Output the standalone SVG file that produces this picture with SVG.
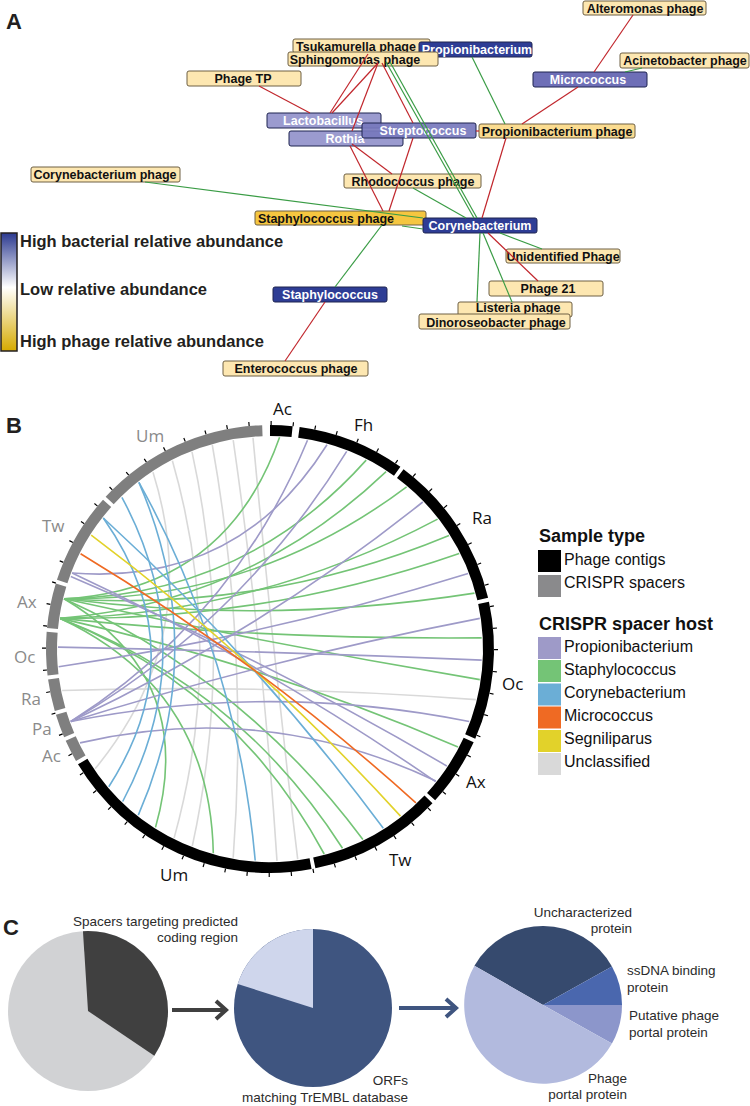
<svg xmlns="http://www.w3.org/2000/svg" width="750" height="1106" viewBox="0 0 750 1106">
<defs>
<linearGradient id="abund" x1="0" y1="0" x2="0" y2="1">
<stop offset="0" stop-color="#2b3990"/>
<stop offset="0.46" stop-color="#ffffff"/>
<stop offset="1" stop-color="#d6aa00"/>
</linearGradient>
<style>
.ph rect{fill:#fde7b1;stroke:#6e6044;stroke-width:1}
.ph text{fill:#111}
.bac rect{stroke:#1e2450;stroke-width:1}
.bac text{fill:#fff}
.nl{font-family:"Liberation Sans",Arial,sans-serif;font-weight:bold;font-size:12.5px;text-anchor:middle}
.er{stroke:#c1272d;stroke-width:1.2;fill:none}
.eg{stroke:#3a9c45;stroke-width:1.2;fill:none}
.big{font-family:"Liberation Sans",Arial,sans-serif;font-weight:bold;font-size:16.5px;fill:#231f20}
.pl{font-family:"Liberation Sans",Arial,sans-serif;font-weight:bold;font-size:22px;fill:#231f20}
.ch{fill:none;stroke-width:1.6}
.cu{stroke:#d9d9d9}.cg{stroke:#74c476}.cp{stroke:#9e9ac8}.cc{stroke:#6baed6}.co{stroke:#ef6a23}.cy{stroke:#e2d22a}
.segb{fill:none;stroke:#000;stroke-width:11}
.segg{fill:none;stroke:#7f7f7f;stroke-width:11}
.lb{font-family:"Open Sans","DejaVu Sans",sans-serif;font-size:17px;fill:#111}
.lg{font-family:"Open Sans","DejaVu Sans",sans-serif;font-size:17px;fill:#8a8a8a}
.lh{font-family:"Liberation Sans",Arial,sans-serif;font-weight:bold;font-size:18px;fill:#111}
.lt{font-family:"Liberation Sans",Arial,sans-serif;font-size:16px;fill:#111}
.ct{font-family:"Liberation Sans",Arial,sans-serif;font-size:13.5px;fill:#2b2b2b}
.r{text-anchor:end}
</style>
</defs>
<rect width="750" height="1106" fill="#fff"/>

<!-- Panel A -->
<text class="pl" x="6" y="29" font-size="21">A</text>
<g id="legendA">
<rect x="1" y="233" width="16" height="118" fill="url(#abund)" stroke="#231f20" stroke-width="1.5"/>
<text class="big" x="20" y="247">High bacterial relative abundance</text>
<text class="big" x="20" y="295">Low relative abundance</text>
<text class="big" x="20" y="347">High phage relative abundance</text>
</g>

<g id="n-alteromonas" class="ph"><rect x="583" y="1" width="123" height="14" rx="2"/><text class="nl" x="645" y="12.5">Alteromonas phage</text></g>
<g id="n-acinetobacter" class="ph"><rect x="620" y="53" width="129" height="15" rx="2"/><text class="nl" x="685" y="65">Acinetobacter phage</text></g>
<g id="n-micrococcus" class="bac"><rect x="533" y="72" width="114" height="15" rx="2" fill="#6e6fb7"/><text class="nl" x="588" y="84">Micrococcus</text></g>
<g id="n-tsukamurella" class="ph"><rect x="293" y="39" width="137" height="14" rx="2"/><text class="nl" x="356" y="50.5">Tsukamurella phage</text></g>
<g id="n-propionibacterium" class="bac"><rect x="419" y="42" width="113" height="15" rx="2" fill="#2e3d95"/><text class="nl" x="477" y="54">Propionibacterium</text></g>
<g id="n-sphingomonas" class="ph"><rect x="288" y="52" width="150" height="14" rx="2"/><text class="nl" x="355" y="63.5">Sphingomonas phage</text></g>
<g id="n-propphage" class="ph"><rect x="479" y="124" width="156" height="14" rx="2" style="fill:#fbdc90"/><text class="nl" x="557" y="135.5">Propionibacterium phage</text></g>
<g id="n-phagetp" class="ph"><rect x="187" y="71" width="114" height="15" rx="2"/><text class="nl" x="243" y="83">Phage TP</text></g>
<g id="n-lactobacillus" class="bac"><rect x="267" y="113" width="114" height="15" rx="2" fill="#9b9bcf"/><text class="nl" x="323" y="125">Lactobacillus</text></g>
<g id="n-rothia" class="bac"><rect x="289" y="131" width="114" height="15" rx="2" fill="#9b9bcf"/><text class="nl" x="345" y="143">Rothia</text></g>
<g id="n-streptococcus" class="bac"><rect x="362" y="123" width="114" height="15" rx="2" fill="#7778bd" fill-opacity="0.92"/><text class="nl" x="423" y="135">Streptococcus</text></g>
<g id="n-rhodococcus" class="ph"><rect x="344" y="174" width="137" height="14" rx="2"/><text class="nl" x="413" y="185.5">Rhodococcus phage</text></g>
<g id="n-corynephage" class="ph"><rect x="31" y="167" width="149" height="15" rx="2"/><text class="nl" x="105" y="179">Corynebacterium phage</text></g>
<g id="n-staphphage" class="ph"><rect x="255" y="211" width="171" height="14" rx="2" style="fill:#f5c640"/><text class="nl" x="326" y="222.5">Staphylococcus phage</text></g>
<g id="n-corynebacterium" class="bac"><rect x="423" y="218" width="114" height="15" rx="2" fill="#2e3d95"/><text class="nl" x="480" y="230">Corynebacterium</text></g>
<g id="n-unidentified" class="ph"><rect x="506" y="249" width="114" height="14" rx="2"/><text class="nl" x="563" y="260.5">Unidentified Phage</text></g>
<g id="n-phage21" class="ph"><rect x="489" y="281" width="114" height="15" rx="2"/><text class="nl" x="548" y="293">Phage 21</text></g>
<g id="n-listeria" class="ph"><rect x="458" y="302" width="114" height="15" rx="2"/><text class="nl" x="518" y="312">Listeria phage</text></g>
<g id="n-dinoroseobacter" class="ph"><rect x="419" y="314" width="151" height="15" rx="2"/><text class="nl" x="496" y="326.5">Dinoroseobacter phage</text></g>
<g id="n-staphylococcus" class="bac"><rect x="273" y="287" width="114" height="15" rx="2" fill="#2e3d95"/><text class="nl" x="330" y="299">Staphylococcus</text></g>
<g id="n-enterococcus" class="ph"><rect x="223" y="361" width="145" height="15" rx="2"/><text class="nl" x="296" y="373">Enterococcus phage</text></g>

<g id="edgesA">
<path class="er" d="M633,15 L594,72"/>
<path class="er" d="M578,87 L522,124"/>
<path class="er" d="M506,138 L482,218"/>
<path class="er" d="M476,131 L479,131"/>
<path class="er" d="M259,86 L310,113"/>
<path class="er" d="M368,54 L330,113"/>
<path class="er" d="M378,63 L332,113"/>
<path class="er" d="M378,63 L352,131"/>
<path class="er" d="M382,63 L413,123"/>
<path class="er" d="M350,146 L383,211"/>
<path class="er" d="M352,144 L392,174"/>
<path class="er" d="M413,138 L389,211"/>
<path class="er" d="M325,302 L285,361"/>
<path class="er" d="M488,233 L538,281"/>
<path class="eg" d="M472,57 L505,124"/>
<path class="eg" d="M625,72 L642,68"/>
<path class="eg" d="M386,62 L474,218"/>
<path class="eg" d="M390,62 L477,218"/>
<path class="eg" d="M145,182 L423,218"/>
<path class="eg" d="M413,188 L466,218"/>
<path class="eg" d="M402,226 L423,229"/>
<path class="eg" d="M382,225 L335,287"/>
<path class="eg" d="M500,233 L542,249"/>
<path class="eg" d="M483,233 L512,302"/>
<path class="eg" d="M480,233 L477,302"/>
</g>

<!-- Panel B -->
<text class="pl" x="6" y="433">B</text>
<g id="chords">
<path class="ch cu" d="M253.0,437.7 Q272.4,648.8 297.7,859.2"/>
<path class="ch cu" d="M233.2,440.2 Q263.3,649.7 277.0,860.9"/>
<path class="ch cu" d="M212.3,445.0 Q248.7,650.1 233.2,857.8"/>
<path class="ch cu" d="M192.0,451.9 Q235.0,649.0 192.3,846.2"/>
<path class="ch cu" d="M172.4,460.8 Q226.5,649.2 174.1,838.1"/>
<path class="ch cu" d="M153.0,472.2 Q204.3,636.2 95.1,768.8"/>
<path class="ch cu" d="M62.1,690.5 Q269.6,684 475.9,699.6"/>
<path class="ch cg" d="M64.0,598.8 Q225.8,590.1 279.6,437.2"/>
<path class="ch cg" d="M64.0,598.8 Q245.3,595.3 366.2,460.1"/>
<path class="ch cg" d="M64.0,598.8 Q254.4,601.3 406.6,486.8"/>
<path class="ch cg" d="M64.0,598.8 Q263.9,612.2 449.0,535.4"/>
<path class="ch cg" d="M64.0,598.8 Q269.7,625.2 474.5,593.1"/>
<path class="ch cg" d="M64.0,598.8 Q270.9,644.6 479.8,679.6"/>
<path class="ch cg" d="M64.0,598.8 Q244.6,680.6 362.9,839.5"/>
<path class="ch cg" d="M64.0,598.8 Q197.9,677.9 155.5,827.4"/>
<path class="ch cg" d="M60.2,618.4 Q248.9,602.3 386.1,471.6"/>
<path class="ch cg" d="M60.2,618.4 Q260.5,612.9 437.6,519.1"/>
<path class="ch cg" d="M60.2,618.4 Q265.4,620.7 459.2,553.4"/>
<path class="ch cg" d="M60.2,618.4 Q270.4,639.7 481.7,637.9"/>
<path class="ch cg" d="M60.2,618.4 Q265.1,664.2 458.0,746.9"/>
<path class="ch cg" d="M60.2,618.4 Q239.1,687.0 342.5,848.2"/>
<path class="ch cg" d="M60.2,618.4 Q235.0,688.3 324.2,854.0"/>
<path class="ch cg" d="M60.2,618.4 Q210.0,688.1 213.3,853.3"/>
<path class="ch cp" d="M72.1,573.0 Q238.3,586.0 327.0,444.8"/>
<path class="ch cp" d="M72.1,573.0 Q262.7,661.8 435.5,781.6"/>
<path class="ch cp" d="M70.8,576.5 Q265.0,659.1 446.8,766.0"/>
<path class="ch cp" d="M58.0,647.1 Q269.9,651.1 481.7,660.1"/>
<path class="ch cp" d="M58.7,666.7 Q267.0,636.0 468.1,573.4"/>
<path class="ch cp" d="M70.8,721.5 Q233.6,618.4 307.5,440.3"/>
<path class="ch cp" d="M70.8,721.5 Q242.4,620.9 346.7,451.3"/>
<path class="ch cp" d="M70.8,721.5 Q259.6,632.3 422.8,502.0"/>
<path class="ch cp" d="M70.8,721.5 Q272.4,658.5 479.8,618.4"/>
<path class="ch cp" d="M70.8,721.5 Q270.0,681.7 469.2,721.5"/>
<path class="ch cp" d="M80.0,742.9 Q264.6,699.9 435.9,781.0"/>
<path class="ch cc" d="M138.9,482.4 Q237.2,659.1 255.2,860.5"/>
<path class="ch cc" d="M138.9,482.4 Q210.9,648.9 138.3,815.1"/>
<path class="ch cc" d="M121.9,497.3 Q203.5,649.2 122.7,801.5"/>
<path class="ch cc" d="M103.3,518.0 Q196.2,650.6 108.8,786.7"/>
<path class="ch cc" d="M103.3,518.0 Q258.0,659.9 383.3,828.2"/>
<path class="ch cy" d="M91.2,535.1 Q259.1,661.0 400.5,816.1"/>
<path class="ch co" d="M80.6,553.7 Q260.2,662.2 415.9,802.8"/>
</g>
<g id="ring">
<circle cx="270" cy="649" r="226" fill="none" stroke="#000" stroke-width="4" stroke-dasharray="1.2 20.99"/>
<path id="seg-ac-b" class="segb" d="M270,430.5 A218.5,218.5 0 0 1 292.08,431.62"/>
<path id="seg-fh-b" class="segb" d="M298.90,432.42 A218.5,218.5 0 0 1 397.19,471.34"/>
<path id="seg-ra-b" class="segb" d="M400.28,473.58 A218.5,218.5 0 0 1 482.73,599.11"/>
<path id="seg-oc-b" class="segb" d="M483.57,602.83 A218.5,218.5 0 0 1 470.22,736.48"/>
<path id="seg-ax-b" class="segb" d="M468.67,739.96 A218.5,218.5 0 0 1 431.10,796.62"/>
<path id="seg-tw-b" class="segb" d="M428.49,799.40 A218.5,218.5 0 0 1 314.31,862.96"/>
<path id="seg-um-b" class="segb" d="M310.57,863.70 A218.5,218.5 0 0 1 82.71,761.54"/>
<path id="seg-ac-g" class="segg" d="M80.77,758.25 A218.5,218.5 0 0 1 70.70,738.57"/>
<path id="seg-pa-g" class="segg" d="M69.17,735.08 A218.5,218.5 0 0 1 61.16,713.25"/>
<path id="seg-ra-g" class="segg" d="M60.07,709.59 A218.5,218.5 0 0 1 53.52,678.65"/>
<path id="seg-oc-g" class="segg" d="M53.04,674.87 A218.5,218.5 0 0 1 52.14,632.24"/>
<path id="seg-ax-g" class="segg" d="M52.47,628.44 A218.5,218.5 0 0 1 61.05,585.12"/>
<path id="seg-tw-g" class="segg" d="M62.19,581.48 A218.5,218.5 0 0 1 107.11,503.36"/>
<path id="seg-um-g" class="segg" d="M109.68,500.54 A218.5,218.5 0 0 1 262.37,430.63"/>
</g>
<g id="ringlabels">
<text class="lb" x="273" y="415">Ac</text>
<text class="lb" x="354" y="431">Fh</text>
<text class="lb" x="472" y="524">Ra</text>
<text class="lb" x="502" y="690">Oc</text>
<text class="lb" x="466" y="788">Ax</text>
<text class="lb" x="389" y="866">Tw</text>
<text class="lb" x="160" y="881">Um</text>
<text class="lg" x="136" y="442">Um</text>
<text class="lg" x="42" y="532">Tw</text>
<text class="lg" x="17" y="608">Ax</text>
<text class="lg" x="14" y="663">Oc</text>
<text class="lg" x="21" y="705">Ra</text>
<text class="lg" x="32" y="735">Pa</text>
<text class="lg" x="42" y="762">Ac</text>
</g>
<g id="legendB">
<text class="lh" x="539" y="542">Sample type</text>
<rect x="538" y="550" width="23" height="22" fill="#000"/>
<text class="lt" x="564" y="565">Phage contigs</text>
<rect x="538" y="575" width="23" height="22" fill="#8a8a8c"/>
<text class="lt" x="564" y="588">CRISPR spacers</text>
<text class="lh" x="539" y="630">CRISPR spacer host</text>
<rect x="538" y="637" width="23" height="22" fill="#9e9ac8"/>
<text class="lt" x="564" y="652">Propionibacterium</text>
<rect x="538" y="660" width="23" height="22" fill="#74c476"/>
<text class="lt" x="564" y="675">Staphylococcus</text>
<rect x="538" y="683.5" width="23" height="22" fill="#6baed6"/>
<text class="lt" x="564" y="698">Corynebacterium</text>
<rect x="538" y="706.5" width="23" height="22" fill="#ef6a23"/>
<text class="lt" x="564" y="721">Micrococcus</text>
<rect x="538" y="730" width="23" height="22" fill="#e2d22a"/>
<text class="lt" x="564" y="744">Segniliparus</text>
<rect x="538" y="753" width="23" height="22" fill="#d9d9d9"/>
<text class="lt" x="564" y="767">Unclassified</text>
</g>

<!-- Panel C -->
<text class="pl" x="3" y="935">C</text>
<g id="pie1">
<circle cx="88" cy="1011" r="80" fill="#d1d2d4"/>
<path d="M88,1011 L82.98,931.16 A80,80 0 0 1 154.32,1055.74 Z" fill="#404040"/>
<text class="ct r" x="238" y="926">Spacers targeting predicted</text>
<text class="ct r" x="238" y="942">coding region</text>
</g>
<g id="arrows">
<path d="M172,1010 H225 M216,1001 L226,1010 L216,1019" fill="none" stroke="#404040" stroke-width="4"/>
<path d="M399,1008 H454 M446,999 L456,1008 L446,1017" fill="none" stroke="#3f5580" stroke-width="4"/>
</g>
<g id="pie2">
<circle cx="313" cy="1008" r="79" fill="#3f5580"/>
<path d="M313,1008 L237.74,983.98 A79,79 0 0 1 313,929 Z" fill="#cfd6ec"/>
<text class="ct r" x="408" y="1085">ORFs</text>
<text class="ct r" x="408" y="1102">matching TrEMBL database</text>
</g>
<g id="pie3">
<path d="M543,1005 L474.44,965.70 A79,79 0 0 1 611.96,966.46 Z" fill="#364a6e"/>
<path d="M543,1005 L611.96,966.46 A79,79 0 0 1 622,1005 Z" fill="#4a67ae"/>
<path d="M543,1005 L622,1005 A79,79 0 0 1 611.96,1043.54 Z" fill="#8c96cb"/>
<path d="M543,1005 L611.96,1043.54 A79,79 0 1 1 474.44,965.70 Z" fill="#b2bade"/>
<text class="ct r" x="632" y="917">Uncharacterized</text>
<text class="ct r" x="632" y="933">protein</text>
<text class="ct" x="627" y="975">ssDNA binding</text>
<text class="ct" x="627" y="992">protein</text>
<text class="ct" x="629" y="1020">Putative phage</text>
<text class="ct" x="629" y="1037">portal protein</text>
<text class="ct r" x="627" y="1083">Phage</text>
<text class="ct r" x="627" y="1099">portal protein</text>
</g>
</svg>
